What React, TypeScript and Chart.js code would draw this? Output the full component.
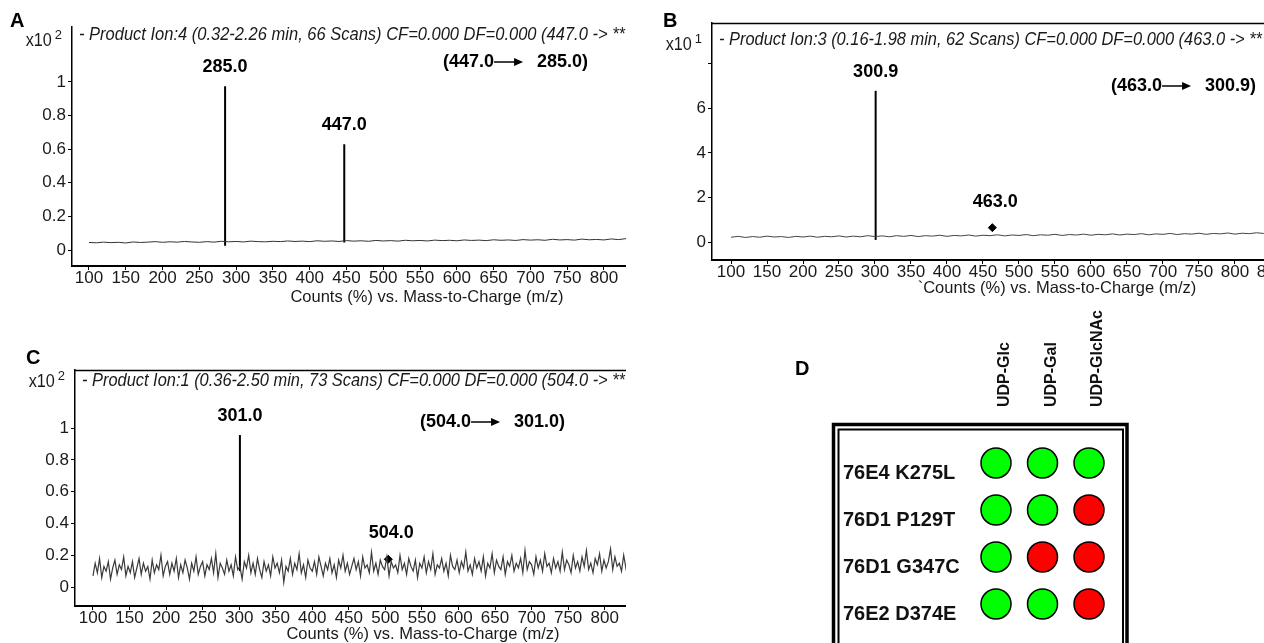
import React, { useEffect, useRef } from "react";
import { Chart, registerables } from "chart.js";
Chart.register(...registerables);

const SANS = "'Liberation Sans', Arial, Helvetica, sans-serif";

// ---------- shared axis data ----------
const xTickValues = [100, 150, 200, 250, 300, 350, 400, 450, 500, 550, 600, 650, 700, 750, 800, 850, 900, 950, 1000];
const xAxisTitle = "Counts (%) vs. Mass-to-Charge (m/z)";
const xAxisTitleB = "`Counts (%) vs. Mass-to-Charge (m/z)";

// ---------- Panel A ----------
const headerA = "- Product Ion:4 (0.32-2.26 min, 66 Scans) CF=0.000 DF=0.000 (447.0 -> **";
const exponentA = "2";
const noiseStartA = 100;
const noiseStepA = 10;
const noiseA = [
  0.045, 0.043, 0.047, 0.044, 0.046, 0.042, 0.048, 0.045, 0.047, 0.05,
  0.046, 0.049, 0.047, 0.051, 0.048, 0.046, 0.05, 0.047, 0.052, 0.049,
  0.051, 0.048, 0.053, 0.05, 0.049, 0.052, 0.05, 0.054, 0.051, 0.053,
  0.05, 0.055, 0.052, 0.054, 0.051, 0.056, 0.053, 0.055, 0.052, 0.057,
  0.054, 0.056, 0.053, 0.058, 0.055, 0.057, 0.054, 0.059, 0.056, 0.058,
  0.055, 0.06, 0.057, 0.059, 0.056, 0.061, 0.058, 0.06, 0.057, 0.062,
  0.059, 0.061, 0.058, 0.064, 0.06, 0.062, 0.059, 0.065, 0.061, 0.063,
  0.06, 0.066, 0.062, 0.068, 0.064,
];
const peakMzA = [285, 447];
const peakTopA = [0.975, 0.63];
const peakBaseA = [0.025, 0.045];
const peakLabelsA = ["285.0", "447.0"];
const markerMzA: number[] = [];
const markerYA: number[] = [];
const markerLabelsA: string[] = [];
const yTicksA = [0, 0.2, 0.4, 0.6, 0.8, 1];
const yTickLabelsA = ["0", "0.2", "0.4", "0.6", "0.8", "1"];
const transitionA = ["(447.0", "285.0)"];

// ---------- Panel B ----------
const headerB = "- Product Ion:3 (0.16-1.98 min, 62 Scans) CF=0.000 DF=0.000 (463.0 -> **";
const exponentB = "1";
const noiseStartB = 100;
const noiseStepB = 10;
const noiseB = [
  0.22, 0.26, 0.21, 0.25, 0.22, 0.27, 0.23, 0.25, 0.21, 0.26,
  0.23, 0.27, 0.22, 0.26, 0.24, 0.28, 0.23, 0.27, 0.24, 0.29,
  0.25, 0.28, 0.24, 0.29, 0.26, 0.3, 0.25, 0.29, 0.27, 0.31,
  0.26, 0.3, 0.28, 0.32, 0.27, 0.31, 0.29, 0.33, 0.28, 0.32,
  0.3, 0.34, 0.29, 0.33, 0.31, 0.35, 0.3, 0.34, 0.32, 0.36,
  0.31, 0.35, 0.33, 0.37, 0.32, 0.36, 0.34, 0.38, 0.33, 0.37,
  0.35, 0.39, 0.34, 0.38, 0.36, 0.4, 0.35, 0.39, 0.37, 0.41,
  0.36, 0.4, 0.38, 0.42, 0.39, 0.41,
];
const peakMzB = [300.9];
const peakTopB = [6.78];
const peakBaseB = [0.1];
const peakLabelsB = ["300.9"];
const markerMzB = [463];
const markerYB = [0.65];
const markerLabelsB = ["463.0"];
const yTicksB = [0, 2, 4, 6, 8];
const yTickLabelsB = ["0", "2", "4", "6", ""];
const transitionB = ["(463.0", "300.9)"];

// ---------- Panel C ----------
const headerC = "- Product Ion:1 (0.36-2.50 min, 73 Scans) CF=0.000 DF=0.000 (504.0 -> **";
const exponentC = "2";
const noiseStartC = 100;
const noiseStepC = 3;
const noiseC = [
  0.07, 0.15, 0.09, 0.18, 0.06, 0.13, 0.1, 0.16, 0.05, 0.12,
  0.17, 0.08, 0.14, 0.11, 0.19, 0.07, 0.13, 0.09, 0.16, 0.06,
  0.12, 0.18, 0.08, 0.15, 0.1, 0.13, 0.05, 0.17, 0.09, 0.14,
  0.11, 0.2, 0.07, 0.13, 0.16, 0.08, 0.15, 0.1, 0.18, 0.06,
  0.14, 0.09, 0.17, 0.12, 0.05, 0.15, 0.1, 0.19, 0.08, 0.13,
  0.16, 0.07, 0.14, 0.11, 0.18, 0.09, 0.21, 0.06, 0.15, 0.12,
  0.08, 0.17, 0.1, 0.14, 0.07, 0.19, 0.11, 0.13, 0.05, 0.16,
  0.12, 0.2, 0.09, 0.15, 0.08, 0.18, 0.11, 0.06, 0.16, 0.1,
  0.14, 0.07, 0.19, 0.12, 0.15, 0.09, 0.17, 0.03, 0.13, 0.1,
  0.18, 0.08, 0.15, 0.11, 0.21, 0.09, 0.14, 0.06, 0.17, 0.12,
  0.1, 0.16, 0.08, 0.19, 0.13, 0.07, 0.15, 0.11, 0.18, 0.09,
  0.14, 0.06, 0.17, 0.12, 0.2, 0.1, 0.15, 0.08, 0.13, 0.18,
  0.11, 0.16, 0.07, 0.19, 0.12, 0.14, 0.09, 0.22, 0.1, 0.15,
  0.08, 0.17, 0.13, 0.11, 0.19, 0.07, 0.16, 0.12, 0.14, 0.09,
  0.2, 0.11, 0.15, 0.08, 0.18, 0.13, 0.1, 0.17, 0.06, 0.15,
  0.12, 0.19, 0.09, 0.16, 0.11, 0.21, 0.08, 0.14, 0.12, 0.18,
  0.1, 0.15, 0.07, 0.2, 0.13, 0.11, 0.17, 0.09, 0.16, 0.12,
  0.22, 0.1, 0.14, 0.08, 0.18, 0.12, 0.16, 0.1, 0.19, 0.07,
  0.15, 0.12, 0.21, 0.09, 0.17, 0.13, 0.11, 0.19, 0.08, 0.16,
  0.13, 0.2, 0.1, 0.15, 0.12, 0.18, 0.09, 0.23, 0.11, 0.16,
  0.14, 0.08, 0.19, 0.12, 0.17, 0.1, 0.21, 0.13, 0.15, 0.09,
  0.18, 0.12, 0.16, 0.1, 0.22, 0.11, 0.17, 0.14, 0.09, 0.2,
  0.12, 0.16, 0.1, 0.19, 0.13, 0.23, 0.11, 0.15, 0.09, 0.18,
  0.14, 0.21, 0.1, 0.17, 0.12, 0.16, 0.24, 0.11, 0.19, 0.13,
  0.15, 0.1, 0.2, 0.12, 0.18, 0.14, 0.22, 0.11, 0.17, 0.13,
];
const peakMzC = [301];
const peakTopC = [0.956];
const peakBaseC = [0.1];
const peakLabelsC = ["301.0"];
const markerMzC = [504];
const markerYC = [0.175];
const markerLabelsC = ["504.0"];
const yTicksC = [0, 0.2, 0.4, 0.6, 0.8, 1];
const yTickLabelsC = ["0", "0.2", "0.4", "0.6", "0.8", "1"];
const transitionC = ["(504.0", "301.0)"];

// ---------- Panel D ----------
const mutants = ["76E4 K275L", "76D1 P129T", "76D1 G347C", "76E2 D374E"];
const substrates = ["UDP-Glc", "UDP-Gal", "UDP-GlcNAc"];
// 1 = product formed (green), 0 = no product (red); rows follow `mutants`, columns follow `substrates`
const activity = [
  [1, 1, 1],
  [1, 1, 0],
  [1, 0, 0],
  [1, 1, 0],
];

type SpecCfg = {
  header: string; exponent: string;
  noise: number[]; start: number; step: number;
  peakMz: number[]; peakTop: number[]; peakBase: number[]; peakLabels: string[];
  markerMz: number[]; markerY: number[]; markerLabels: string[];
  yTicks: number[]; yTickLabels: string[];
  transition: string[]; xTitle: string;
  left: number; top: number; clipW: number;
  width: number; height: number; padTop: number; padRight: number;
  yAxisW: number; xAxisH: number;
  xMin: number; xMax: number; yMin: number; yMax: number;
  topBorder: boolean; headerDy: number; headerW: number; expDy: number; transDx: number; transDy: number;
  noiseColor: string; noiseWidth: number;
};

function fillCondensed(ctx: CanvasRenderingContext2D, text: string, x: number, y: number, sx: number) {
  ctx.save();
  ctx.translate(x, y);
  ctx.scale(sx, 1);
  ctx.fillText(text, 0, 0);
  ctx.restore();
}

function Spectrum({ cfg }: { cfg: SpecCfg }) {
  const ref = useRef<HTMLCanvasElement>(null);
  useEffect(() => {
    const canvas = ref.current!;
    const noiseData = cfg.noise.map((v, i) => ({ x: cfg.start + i * cfg.step, y: v }));
    const peakData: any[] = [];
    cfg.peakMz.forEach((mz, i) => {
      peakData.push({ x: mz, y: cfg.peakBase[i] }, { x: mz, y: cfg.peakTop[i] }, { x: mz, y: null });
    });
    const markerData = cfg.markerMz.map((mz, i) => ({ x: mz, y: cfg.markerY[i] }));

    const annot = {
      id: "annot",
      afterDatasetsDraw(chart: any) {
        const { ctx, chartArea: a, scales } = chart;
        const xs = scales.x, ys = scales.y;
        ctx.save();
        ctx.fillStyle = "#1a1a1a";
        ctx.strokeStyle = "#000";
        if (cfg.topBorder) {
          ctx.lineWidth = 1.5;
          ctx.beginPath();
          ctx.moveTo(a.left, a.top + 0.5);
          ctx.lineTo(a.right, a.top + 0.5);
          ctx.stroke();
        }
        // header line (condensed italic)
        ctx.textBaseline = "middle";
        ctx.textAlign = "left";
        ctx.font = `italic 18px ${SANS}`;
        const hw = ctx.measureText(cfg.header).width;
        fillCondensed(ctx, cfg.header, a.left + 7, a.top + cfg.headerDy, cfg.headerW / hw);
        // exponent x10^n
        ctx.font = `13px ${SANS}`;
        ctx.textAlign = "right";
        const expRight = a.left - 10;
        ctx.fillText(cfg.exponent, expRight, a.top + cfg.expDy - 6);
        const ew = ctx.measureText(cfg.exponent).width;
        ctx.font = `18px ${SANS}`;
        fillCondensed(ctx, "x10", expRight - ew - 3, a.top + cfg.expDy, 0.9);
        // peak labels
        ctx.fillStyle = "#000";
        ctx.textAlign = "center";
        ctx.font = `bold 18px ${SANS}`;
        cfg.peakMz.forEach((mz, i) => {
          ctx.fillText(cfg.peakLabels[i], xs.getPixelForValue(mz), ys.getPixelForValue(cfg.peakTop[i]) - 19);
        });
        cfg.markerMz.forEach((mz, i) => {
          ctx.fillText(cfg.markerLabels[i], xs.getPixelForValue(mz) + 3, ys.getPixelForValue(cfg.markerY[i]) - 26);
        });
        // transition (precursor -> product)
        ctx.textAlign = "left";
        let tx = a.left + cfg.transDx;
        const ty = a.top + cfg.transDy;
        ctx.fillText(cfg.transition[0], tx, ty);
        tx += ctx.measureText(cfg.transition[0]).width;
        ctx.lineWidth = 1.5;
        ctx.beginPath();
        ctx.moveTo(tx, ty);
        ctx.lineTo(tx + 22, ty);
        ctx.stroke();
        ctx.beginPath();
        ctx.moveTo(tx + 20, ty - 4);
        ctx.lineTo(tx + 29, ty);
        ctx.lineTo(tx + 20, ty + 4);
        ctx.closePath();
        ctx.fill();
        ctx.fillText(cfg.transition[1], tx + 43, ty);
        ctx.restore();
      },
    };

    const chart = new Chart(canvas, {
      type: "scatter",
      data: {
        datasets: [
          { data: noiseData, showLine: true, borderColor: cfg.noiseColor, borderWidth: cfg.noiseWidth, pointRadius: 0, tension: 0 } as any,
          { data: peakData, showLine: true, spanGaps: false, borderColor: "#000", borderWidth: 2, pointRadius: 0 } as any,
          { data: markerData, showLine: false, pointStyle: "rectRot", pointRadius: 4, backgroundColor: "#000", borderColor: "#000" } as any,
        ],
      },
      options: {
        animation: false,
        responsive: false,
        maintainAspectRatio: false,
        events: [],
        layout: { autoPadding: false, padding: { left: 0, top: cfg.padTop, right: cfg.padRight, bottom: 0 } } as any,
        plugins: { legend: { display: false }, tooltip: { enabled: false } },
        scales: {
          x: {
            type: "linear",
            min: cfg.xMin,
            max: cfg.xMax,
            afterBuildTicks: (s: any) => { s.ticks = xTickValues.map((v) => ({ value: v })); },
            afterFit: (s: any) => { s.height = cfg.xAxisH; },
            ticks: {
              autoSkip: false, maxRotation: 0, padding: 0, color: "#1a1a1a",
              font: { family: SANS, size: 17, lineHeight: 1 },
              callback: (v: any) => String(v),
            },
            grid: { drawOnChartArea: false, drawTicks: true, tickLength: 4, color: "#000", lineWidth: 1 },
            border: { display: true, color: "#000", width: 2 },
            title: { display: true, text: cfg.xTitle, color: "#1a1a1a", padding: 0, font: { family: SANS, size: 16.5, lineHeight: 1 } },
          },
          y: {
            type: "linear",
            min: cfg.yMin,
            max: cfg.yMax,
            afterBuildTicks: (s: any) => { s.ticks = cfg.yTicks.map((v) => ({ value: v })); },
            afterFit: (s: any) => { s.width = cfg.yAxisW; },
            ticks: {
              autoSkip: false, padding: 2, color: "#1a1a1a",
              font: { family: SANS, size: 17, lineHeight: 1 },
              callback: (_v: any, i: number) => cfg.yTickLabels[i],
            },
            grid: { drawOnChartArea: false, drawTicks: true, tickLength: 4, color: "#000", lineWidth: 1 },
            border: { display: true, color: "#000", width: 1.5 },
          },
        },
      },
      plugins: [annot],
    });
    return () => chart.destroy();
  }, []);
  return (
    <div style={{ position: "absolute", left: cfg.left, top: cfg.top, width: cfg.clipW, height: cfg.height, overflow: "hidden" }}>
      <canvas ref={ref} width={cfg.width} height={cfg.height} style={{ width: cfg.width, height: cfg.height, display: "block" }} />
    </div>
  );
}

function Matrix() {
  const ref = useRef<HTMLCanvasElement>(null);
  useEffect(() => {
    const canvas = ref.current!;
    const pts: any[] = [];
    const colors: string[] = [];
    activity.forEach((row, r) => row.forEach((v, c) => {
      pts.push({ x: c, y: r });
      colors.push(v ? "#00ff00" : "#ff0000");
    }));
    const deco = {
      id: "deco",
      beforeDatasetsDraw(chart: any) {
        const { ctx } = chart;
        ctx.save();
        ctx.strokeStyle = "#000";
        ctx.lineWidth = 3.5;
        ctx.strokeRect(53.5, 124.5, 293.5, 300);
        ctx.lineWidth = 2;
        ctx.strokeRect(58.5, 129.5, 284.5, 300);
        ctx.restore();
      },
      afterDatasetsDraw(chart: any) {
        const { ctx, scales } = chart;
        const xs = scales.x, ys = scales.y;
        ctx.save();
        ctx.fillStyle = "#111";
        ctx.font = `bold 20px ${SANS}`;
        ctx.textAlign = "left";
        ctx.textBaseline = "middle";
        mutants.forEach((m, r) => ctx.fillText(m, 63, ys.getPixelForValue(r) + 10));
        ctx.font = `bold 16px ${SANS}`;
        substrates.forEach((s, c) => {
          ctx.save();
          ctx.translate(xs.getPixelForValue(c) + 9, 107);
          ctx.rotate(-Math.PI / 2);
          ctx.textAlign = "left";
          ctx.textBaseline = "middle";
          ctx.fillText(s, 0, 0);
          ctx.restore();
        });
        ctx.restore();
      },
    };
    const chart = new Chart(canvas, {
      type: "scatter",
      data: {
        datasets: [{ data: pts, pointRadius: 15, pointBackgroundColor: colors, pointBorderColor: "#000", pointBorderWidth: 1.5 } as any],
      },
      options: {
        animation: false,
        responsive: false,
        maintainAspectRatio: false,
        events: [],
        layout: { autoPadding: false, padding: 0 } as any,
        plugins: { legend: { display: false }, tooltip: { enabled: false } },
        scales: {
          x: { type: "linear", display: false, min: -4.645, max: 5.763 },
          y: { type: "linear", display: false, reverse: true, min: -3.468, max: 3.83 },
        },
      },
      plugins: [deco],
    });
    return () => chart.destroy();
  }, []);
  return (
    <div style={{ position: "absolute", left: 780, top: 300, width: 484, height: 343, overflow: "hidden" }}>
      <canvas ref={ref} width={484} height={343} style={{ width: 484, height: 343, display: "block" }} />
    </div>
  );
}

const cfgA: SpecCfg = {
  header: headerA, exponent: exponentA, noise: noiseA, start: noiseStartA, step: noiseStepA,
  peakMz: peakMzA, peakTop: peakTopA, peakBase: peakBaseA, peakLabels: peakLabelsA,
  markerMz: markerMzA, markerY: markerYA, markerLabels: markerLabelsA,
  yTicks: yTicksA, yTickLabels: yTickLabelsA, transition: transitionA, xTitle: xAxisTitle,
  left: 0, top: 0, clipW: 626, width: 800, height: 306, padTop: 27, padRight: 18,
  yAxisW: 72, xAxisH: 40, xMin: 76.9, xMax: 1042, yMin: -0.095, yMax: 1.327,
  topBorder: false, headerDy: 8, headerW: 546, expDy: 14, transDx: 371, transDy: 35,
  noiseColor: "#333", noiseWidth: 1,
};

const cfgB: SpecCfg = {
  header: headerB, exponent: exponentB, noise: noiseB, start: noiseStartB, step: noiseStepB,
  peakMz: peakMzB, peakTop: peakTopB, peakBase: peakBaseB, peakLabels: peakLabelsB,
  markerMz: markerMzB, markerY: markerYB, markerLabels: markerLabelsB,
  yTicks: yTicksB, yTickLabels: yTickLabelsB, transition: transitionB, xTitle: xAxisTitleB,
  left: 640, top: 0, clipW: 624, width: 800, height: 297, padTop: 23, padRight: 38,
  yAxisW: 72, xAxisH: 37, xMin: 73.6, xMax: 1032, yMin: -0.8, yMax: 9.82,
  topBorder: true, headerDy: 17, headerW: 543, expDy: 22, transDx: 399, transDy: 63,
  noiseColor: "#444", noiseWidth: 1,
};

const cfgC: SpecCfg = {
  header: headerC, exponent: exponentC, noise: noiseC, start: noiseStartC, step: noiseStepC,
  peakMz: peakMzC, peakTop: peakTopC, peakBase: peakBaseC, peakLabels: peakLabelsC,
  markerMz: markerMzC, markerY: markerYC, markerLabels: markerLabelsC,
  yTicks: yTicksC, yTickLabels: yTickLabelsC, transition: transitionC, xTitle: xAxisTitle,
  left: 0, top: 330, clipW: 626, width: 800, height: 313, padTop: 40, padRight: 29,
  yAxisW: 75, xAxisH: 37, xMin: 75.4, xMax: 1027.5, yMin: -0.119, yMax: 1.365,
  topBorder: true, headerDy: 11, headerW: 543, expDy: 12, transDx: 345, transDy: 52,
  noiseColor: "#3a3a3a", noiseWidth: 1.2,
};

const letterStyle = (left: number, top: number): React.CSSProperties => ({
  position: "absolute", left, top, font: `bold 20px ${SANS}`, lineHeight: "20px", color: "#000",
});

export default function App() {
  return (
    <div style={{ position: "fixed", left: 0, top: 0, width: 1264, height: 643, overflow: "hidden", background: "#fff" }}>
      <Spectrum cfg={cfgA} />
      <Spectrum cfg={cfgB} />
      <Spectrum cfg={cfgC} />
      <Matrix />
      <div style={letterStyle(10, 10)}>A</div>
      <div style={letterStyle(663, 10)}>B</div>
      <div style={letterStyle(26, 347)}>C</div>
      <div style={letterStyle(795, 358)}>D</div>
    </div>
  );
}
